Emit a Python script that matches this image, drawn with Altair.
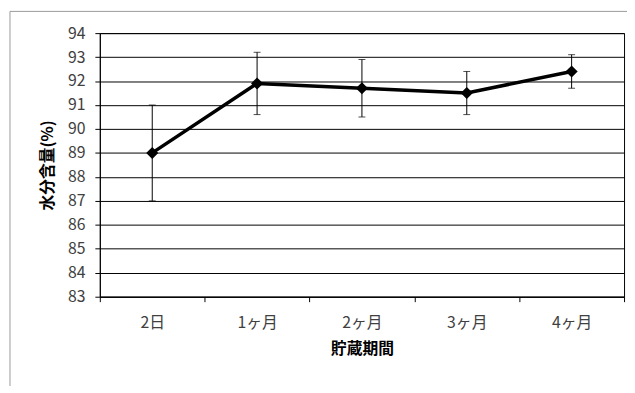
import altair as alt
import pandas as pd

categories = ["2日", "1ヶ月", "2ヶ月", "3ヶ月", "4ヶ月"]
means = [89.0, 91.9, 91.7, 91.5, 92.4]
errors = [2.0, 1.3, 1.2, 0.9, 0.7]
y_ticks = [83, 84, 85, 86, 87, 88, 89, 90, 91, 92, 93, 94]

df = pd.DataFrame({"cat": categories, "mean": means, "err": errors})
df["lo"] = df["mean"] - df["err"]
df["hi"] = df["mean"] + df["err"]

FONT = "Noto Sans CJK JP"

x_axis = alt.Axis(
    title="貯蔵期間",
    labelAngle=0,
    tickBand="extent",
    grid=False,
    domainColor="#000000",
    tickColor="#000000",
    tickSize=5,
    labelPadding=13,
    labelFontSize=16,
    labelColor="#404040",
    labelFont=FONT,
    titleFont=FONT,
    titleFontSize=16,
    titleFontWeight="bold",
    titleColor="#000000",
    titlePadding=11,
)
x_enc = alt.X("cat:N", sort=categories, scale=alt.Scale(paddingInner=0, paddingOuter=0), axis=x_axis)

y_axis = alt.Axis(
    title="水分含量(%)",
    values=y_ticks,
    tickCount=len(y_ticks) + 4,
    format="d",
    labelOverlap=False,
    grid=True,
    gridColor="#000000",
    gridWidth=1,
    domainColor="#000000",
    tickColor="#000000",
    tickSize=5,
    labelPadding=10,
    labelFontSize=16,
    labelColor="#404040",
    labelFont=FONT,
    titleFont=FONT,
    titleFontSize=16,
    titleFontWeight="bold",
    titleColor="#000000",
    titlePadding=12,
)
y_scale = alt.Scale(domain=[83, 94], nice=False, zero=False)


def yenc(field):
    return alt.Y(field, scale=y_scale, axis=y_axis, title="水分含量(%)")


base = alt.Chart(df)

frame = alt.Chart(pd.DataFrame({"a": [0]})).mark_rect(
    fill=None, stroke="#9a9a9a", strokeWidth=1
).encode(
    x=alt.value(-91), x2=alt.value(540), y=alt.value(-22), y2=alt.value(358)
)

err = base.mark_rule(color="#000000", strokeWidth=1).encode(
    x=x_enc, y=yenc("lo:Q"), y2="hi:Q"
)
cap_lo = base.mark_tick(color="#000000", thickness=1, size=7).encode(
    x=x_enc, y=yenc("lo:Q")
)
cap_hi = base.mark_tick(color="#000000", thickness=1, size=7).encode(
    x=x_enc, y=yenc("hi:Q")
)
line = base.mark_line(color="#000000", strokeWidth=3.5).encode(
    x=x_enc, y=yenc("mean:Q")
)
pts = base.mark_point(shape="diamond", filled=True, color="#000000", size=150, opacity=1).encode(
    x=x_enc, y=yenc("mean:Q")
)

chart = alt.layer(frame, err, cap_lo, cap_hi, line, pts).properties(
    width=531,
    height=267,
    autosize=alt.AutoSizeParams(type="none"),
    padding={"left": 93, "top": 23, "right": 3, "bottom": 88},
    background="#ffffff",
).configure_view(stroke="#000000", strokeWidth=1)

chart.save("out.html", embed_options={"renderer": "svg", "actions": False})
